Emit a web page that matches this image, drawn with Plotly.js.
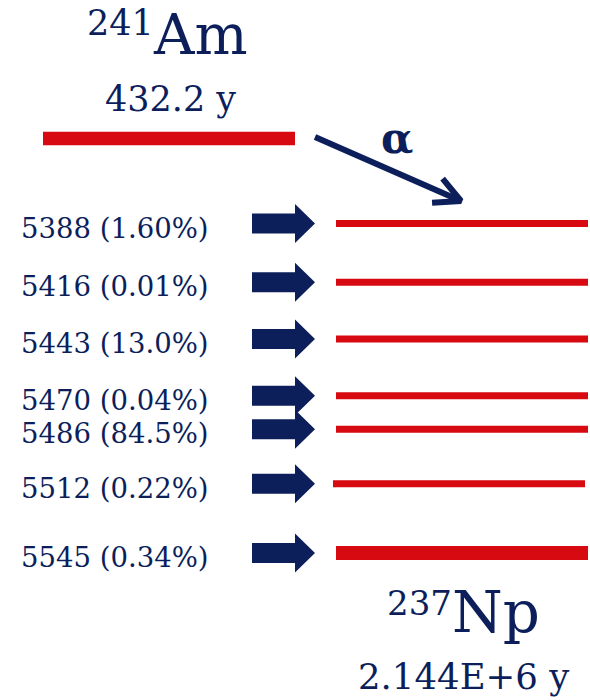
<!DOCTYPE html>
<html>
<head>
<meta charset="utf-8">
<script src="https://cdn.plot.ly/plotly-3.0.1.min.js"></script>
<style>html,body{margin:0;padding:0;background:#fff;}#chart{width:590px;height:700px;}</style>
</head>
<body>
<div id="chart"></div>
<script>
// ---- data ----
const energies = [5388, 5416, 5443, 5470, 5486, 5512, 5545];          // alpha energy, keV
const intensities = ["1.60", "0.01", "13.0", "0.04", "84.5", "0.22", "0.34"]; // branching, %
const parentMass = "241";
const parentSymbol = "Am";
const parentHalfLife = "432.2 y";
const daughterMass = "237";
const daughterSymbol = "Np";
const daughterHalfLife = "2.144E+6 y";
const decayMode = "α";

// ---- style / layout ----
const NAVY = "#0c1f5b";
const RED = "#d60a10";
const FONT = "DejaVu Serif, Liberation Serif, serif";
const W = 590, H = 700;
const yTop = 5281.5, yBottom = 5615.0;              // energy axis range (top -> bottom)
const pxPerKeV = H / (yBottom - yTop);
const levelXShift = [0, 0, 0, 0, 0, -3, 0];
const levelWidth = [7, 7, 7, 7, 7, 7, 14];

const traces = [];
const annotations = [];

// daughter levels + block arrows + labels
energies.forEach((e, i) => {
  traces.push({
    x: [336 + levelXShift[i], 588 + levelXShift[i]], y: [e, e],
    mode: "lines", line: {color: RED, width: levelWidth[i]},
    hoverinfo: "skip", xaxis: "x", yaxis: "y"
  });
  const s = 10 / pxPerKeV, h = 19.5 / pxPerKeV;
  traces.push({
    x: [252, 295, 295, 315, 295, 295, 252, 252],
    y: [e - s, e - s, e - h, e, e + h, e + s, e + s, e - s],
    mode: "lines", fill: "toself", fillcolor: NAVY,
    line: {color: NAVY, width: 0}, hoverinfo: "skip", xaxis: "x", yaxis: "y"
  });
  annotations.push({
    x: 19, y: e, xref: "x", yref: "y", xanchor: "left", yanchor: "middle",
    yshift: -4, showarrow: false, text: `${e} (${intensities[i]}%)`,
    font: {family: FONT, size: 27.5, color: NAVY}
  });
});

// parent level (pixel axis y2)
traces.push({
  x: [43, 295], y: [138.5, 138.5], mode: "lines",
  line: {color: RED, width: 13.5}, hoverinfo: "skip", xaxis: "x", yaxis: "y2"
});

// alpha arrow (pixel axis y2)
const start = [315, 137], tip = [461, 201];
const dx = start[0] - tip[0], dy = start[1] - tip[1];
const L = Math.hypot(dx, dy), ux = dx / L, uy = dy / L;
const ang = 27 * Math.PI / 180, armLen = 29;
const rot = (a) => [tip[0] + armLen * (ux * Math.cos(a) - uy * Math.sin(a)),
                    tip[1] + armLen * (ux * Math.sin(a) + uy * Math.cos(a))];
const a1 = rot(ang), a2 = rot(-ang);
traces.push({
  x: [start[0], tip[0], null, a1[0], tip[0], a2[0]],
  y: [start[1], tip[1], null, a1[1], tip[1], a2[1]],
  mode: "lines", line: {color: NAVY, width: 6}, hoverinfo: "skip",
  xaxis: "x", yaxis: "y2"
});

function txt(x, y, text, size, bold) {
  annotations.push({
    x: x, y: y, xref: "x", yref: "y2", xanchor: "center", yanchor: "middle",
    showarrow: false, text: bold ? `<b>${text}</b>` : text,
    font: {family: FONT, size: size, color: NAVY}
  });
}
txt(120, 23, parentMass, 35);
txt(200, 34, parentSymbol, 56);
txt(170, 99, parentHalfLife, 35);
txt(397, 138, decayMode, 42, true);
txt(419, 603, daughterMass, 34);
txt(496, 612, daughterSymbol, 58);
txt(463, 676, daughterHalfLife, 35.5);

const layout = {
  width: W, height: H, margin: {l: 0, r: 0, t: 0, b: 0},
  paper_bgcolor: "#ffffff", plot_bgcolor: "#ffffff", showlegend: false,
  xaxis: {range: [0, W], visible: false, fixedrange: true},
  yaxis: {range: [yBottom, yTop], visible: false, fixedrange: true},
  yaxis2: {range: [H, 0], visible: false, fixedrange: true, overlaying: "y"},
  annotations: annotations
};
Plotly.newPlot("chart", traces, layout, {staticPlot: true, displayModeBar: false});
</script>
</body>
</html>
